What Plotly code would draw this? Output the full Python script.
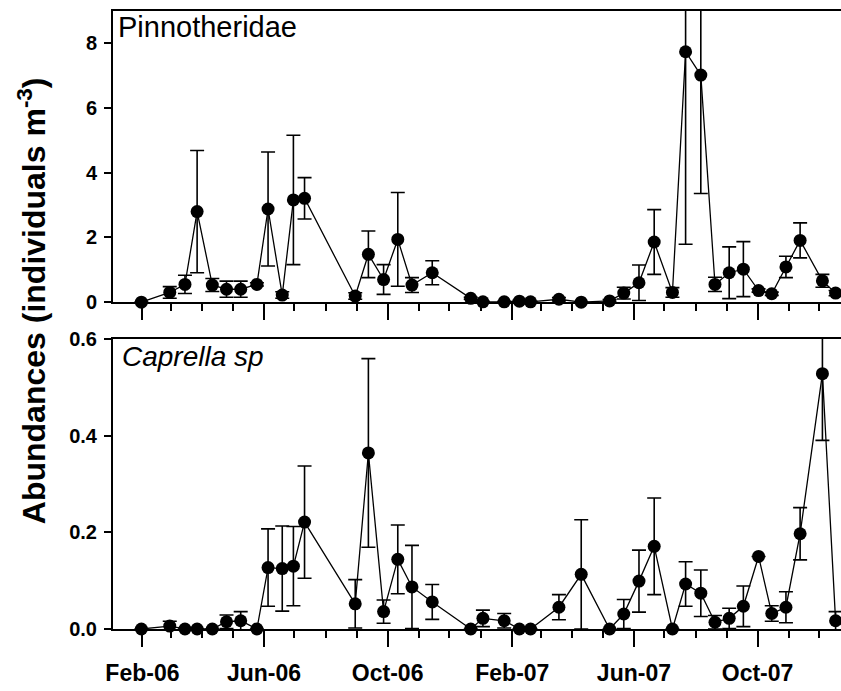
import plotly.graph_objects as go

# ---- data ----
dates = ["2006-01-31", "2006-02-28", "2006-03-15", "2006-03-27", "2006-04-11",
         "2006-04-25", "2006-05-09", "2006-05-25", "2006-06-05", "2006-06-19",
         "2006-06-30", "2006-07-11", "2006-08-30", "2006-09-12", "2006-09-27",
         "2006-10-11", "2006-10-25", "2006-11-14", "2006-12-22", "2007-01-03",
         "2007-01-24", "2007-02-08", "2007-02-19", "2007-03-19", "2007-04-10",
         "2007-05-08", "2007-05-22", "2007-06-06", "2007-06-21", "2007-07-09",
         "2007-07-22", "2007-08-06", "2007-08-20", "2007-09-03", "2007-09-17",
         "2007-10-02", "2007-10-15", "2007-10-29", "2007-11-12", "2007-12-04",
         "2007-12-17"]

pinnotheridae = [0.00, 0.30, 0.55, 2.80, 0.53, 0.40, 0.40, 0.55, 2.88, 0.22,
                 3.16, 3.21, 0.19, 1.48, 0.70, 1.94, 0.53, 0.91, 0.12, 0.01,
                 0.01, 0.03, 0.01, 0.09, 0.00, 0.04, 0.28, 0.60, 1.86, 0.30,
                 7.74, 7.02, 0.55, 0.91, 1.02, 0.36, 0.26, 1.09, 1.91, 0.66,
                 0.28]
pinnotheridae_err = [0.00, 0.18, 0.28, 1.89, 0.20, 0.25, 0.25, 0.05, 1.76, 0.10,
                     2.00, 0.64, 0.10, 0.72, 0.46, 1.45, 0.23, 0.37, 0.03, 0.02,
                     0.02, 0.03, 0.02, 0.05, 0.00, 0.04, 0.18, 0.55, 1.00, 0.15,
                     5.95, 3.66, 0.22, 0.80, 0.85, 0.05, 0.05, 0.33, 0.54, 0.20,
                     0.08]

caprella = [0.000, 0.006, 0.000, 0.000, 0.000, 0.015, 0.017, 0.000, 0.127, 0.125,
            0.130, 0.221, 0.052, 0.364, 0.036, 0.144, 0.087, 0.056, 0.000, 0.022,
            0.017, 0.000, 0.000, 0.045, 0.113, 0.000, 0.031, 0.099, 0.171, 0.000,
            0.093, 0.074, 0.014, 0.022, 0.047, 0.150, 0.032, 0.045, 0.197, 0.528,
            0.017]
caprella_err = [0.000, 0.010, 0.000, 0.000, 0.000, 0.014, 0.019, 0.000, 0.080, 0.088,
                0.082, 0.116, 0.050, 0.195, 0.024, 0.071, 0.086, 0.036, 0.000, 0.017,
                0.015, 0.000, 0.000, 0.026, 0.113, 0.000, 0.030, 0.064, 0.100, 0.000,
                0.046, 0.048, 0.014, 0.021, 0.042, 0.000, 0.016, 0.032, 0.054, 0.138,
                0.019]

x_range = ["2006-01-03", "2007-12-22 08:00"]
top_range = [0, 9]
bottom_range = [0, 0.6]

FONT = "Liberation Sans"
W, H = 841, 691
ML, MR, MT, MB = 113, 0, 5, 62

fig = go.Figure()

panels = [(pinnotheridae, pinnotheridae_err, "x", "y"),
          (caprella, caprella_err, "x2", "y2")]
for vals, errs, xa, ya in panels:
    fig.add_trace(go.Scatter(
        x=dates, y=vals, mode="lines", xaxis=xa, yaxis=ya,
        line=dict(color="black", width=1.3),
        error_y=dict(type="data", array=errs, symmetric=True, color="black",
                     thickness=1.6, width=7),
        cliponaxis=True, showlegend=False, hoverinfo="skip"))
    fig.add_trace(go.Scatter(
        x=dates, y=vals, mode="markers", xaxis=xa, yaxis=ya,
        marker=dict(color="black", size=13, line=dict(width=0)),
        cliponaxis=False, showlegend=False))

xcommon = dict(type="date", range=x_range, showline=True, linecolor="black",
               linewidth=2, mirror=True, ticks="outside", ticklen=16,
               tickwidth=2, tickcolor="black", dtick="M4", tick0="2006-02-01",
               tickformat="%b-%y", showgrid=False, zeroline=False,
               ticklabelstandoff=6,
               tickfont=dict(family=FONT, size=23, color="black", weight="bold"),
               minor=dict(dtick="M1", ticks="outside", ticklen=7, tickwidth=2,
                          tickcolor="black", showgrid=False))
ycommon = dict(showline=True, linecolor="black", linewidth=2, ticks="outside",
               ticklen=7, tickwidth=2, tickcolor="black", showgrid=False,
               zeroline=False, ticklabelstandoff=3,
               tickfont=dict(family=FONT, size=20, color="black", weight="bold"))

plot_h = H - MT - MB
top_dom = [1 - (299 - MT) / plot_h, 1]
bot_dom = [0, 1 - (336 - MT) / plot_h]

fig.update_layout(
    width=W, height=H,
    margin=dict(l=ML, r=MR, t=MT, b=MB, pad=0),
    paper_bgcolor="white", plot_bgcolor="white",
    xaxis=dict(xcommon, anchor="y", showticklabels=False),
    xaxis2=dict(xcommon, anchor="y2", matches="x"),
    yaxis=dict(ycommon, domain=top_dom, range=top_range, dtick=2, anchor="x"),
    yaxis2=dict(ycommon, domain=bot_dom, range=bottom_range, dtick=0.2,
                tickformat=".1f", anchor="x2"),
    annotations=[
        dict(text="Pinnotheridae", xref="x domain", yref="y domain", x=0, y=1,
             xanchor="left", yanchor="top", xshift=3, yshift=2, showarrow=False,
             font=dict(family=FONT, size=29, color="black")),
        dict(text="<i>Caprella sp</i>", xref="x2 domain", yref="y2 domain", x=0, y=1,
             xanchor="left", yanchor="top", xshift=7, yshift=0, showarrow=False,
             font=dict(family=FONT, size=28, color="black")),
        dict(text="Abundances (individuals m<sup>-3</sup>)", xref="paper", yref="paper",
             x=(32 - ML) / (W - ML - MR), y=(H - MB - 298) / plot_h,
             xanchor="center", yanchor="middle", textangle=-90, showarrow=False,
             font=dict(family=FONT, size=32, color="black", weight="bold")),
    ],
)

fig.write_html("out.html")
